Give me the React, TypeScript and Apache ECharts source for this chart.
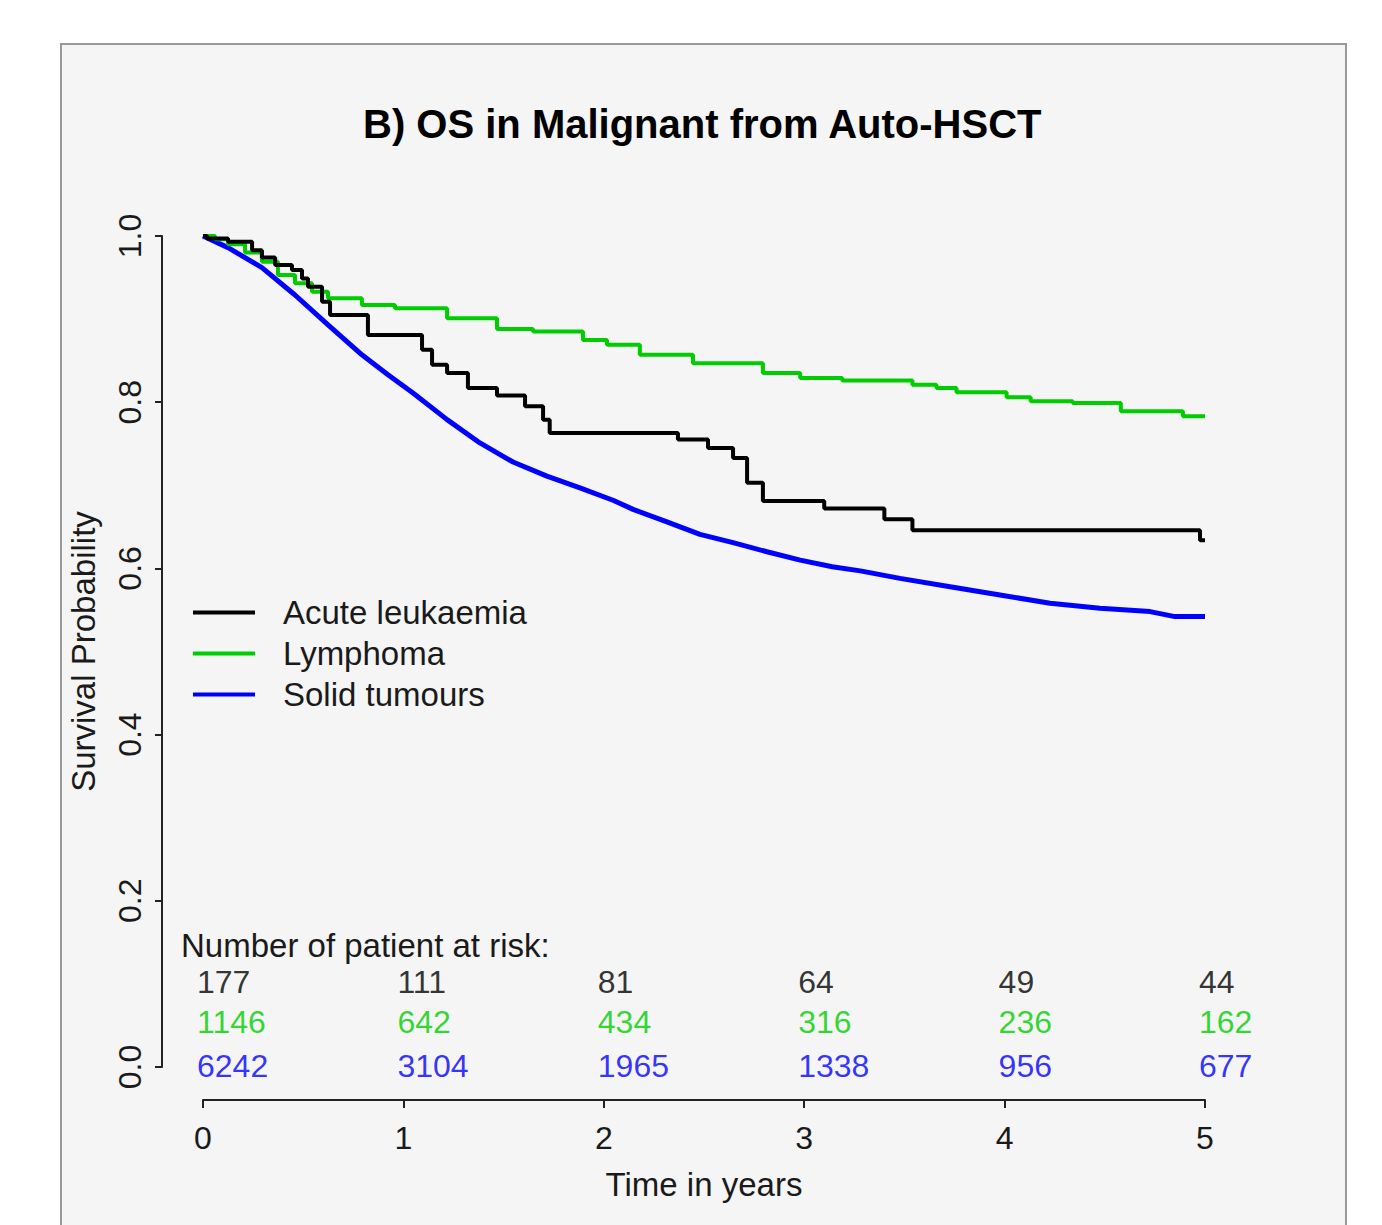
import React, { useEffect, useRef } from "react";
import * as echarts from "echarts";

const TITLE = "B) OS in Malignant from Auto-HSCT";
const SERIES_NAMES = ["Acute leukaemia", "Lymphoma", "Solid tumours"];
const SERIES_COLORS = ["#000000", "#00cd00", "#0000ff"];
const SERIES_WIDTHS = [4, 4, 5];

// Kaplan-Meier estimates: [time in years, survival probability]
const acuteLeukaemia: [number, number][] = [
  [0, 1.0], [0.02, 0.997], [0.125, 0.993], [0.245, 0.983], [0.294, 0.974],
  [0.36, 0.965], [0.444, 0.959], [0.494, 0.949], [0.524, 0.939], [0.594, 0.921],
  [0.634, 0.905], [0.823, 0.881], [1.093, 0.863], [1.143, 0.845], [1.218, 0.835],
  [1.322, 0.817], [1.467, 0.808], [1.607, 0.795], [1.697, 0.779], [1.73, 0.763],
  [2.37, 0.755], [2.52, 0.745], [2.645, 0.733], [2.715, 0.703], [2.794, 0.681],
  [3.1, 0.672], [3.4, 0.659], [3.54, 0.646], [4.975, 0.634], [5.0, 0.634],
];
const lymphoma: [number, number][] = [
  [0, 1.0], [0.06, 0.996], [0.125, 0.99], [0.21, 0.98], [0.294, 0.969],
  [0.374, 0.953], [0.459, 0.943], [0.544, 0.933], [0.624, 0.925], [0.793, 0.917],
  [0.958, 0.913], [1.218, 0.901], [1.467, 0.888], [1.647, 0.885], [1.896, 0.875],
  [2.016, 0.869], [2.18, 0.857], [2.445, 0.847], [2.794, 0.835], [2.98, 0.829],
  [3.19, 0.826], [3.54, 0.821], [3.66, 0.817], [3.76, 0.812], [4.01, 0.806],
  [4.13, 0.801], [4.34, 0.799], [4.58, 0.789], [4.89, 0.783], [5.0, 0.783],
];
const solidTumours: [number, number][] = [
  [0, 1.0], [0.125, 0.986], [0.294, 0.962], [0.459, 0.929], [0.624, 0.893],
  [0.793, 0.857], [0.923, 0.833], [1.048, 0.811], [1.218, 0.779], [1.382, 0.751],
  [1.547, 0.728], [1.716, 0.711], [1.881, 0.697], [2.046, 0.682], [2.146, 0.671],
  [2.315, 0.656], [2.48, 0.641], [2.645, 0.631], [2.814, 0.62], [2.98, 0.61],
  [3.14, 0.602], [3.28, 0.597], [3.478, 0.588], [3.728, 0.578], [3.977, 0.568],
  [4.227, 0.558], [4.476, 0.552], [4.726, 0.548], [4.85, 0.542], [5.0, 0.542],
];

const X_TICKS = [0, 1, 2, 3, 4, 5];
const AT_RISK_ACUTE = [177, 111, 81, 64, 49, 44];
const AT_RISK_LYMPHOMA = [1146, 642, 434, 316, 236, 162];
const AT_RISK_SOLID = [6242, 3104, 1965, 1338, 956, 677];
const AT_RISK_TITLE = "Number of patient at risk:";

// vertical placement of the at-risk rows, in axis units
const RISK_ROW_Y = [0.102, 0.054, 0.001];

const FONT = "'Liberation Sans', Arial, sans-serif";

export default function App() {
  const ref = useRef<HTMLDivElement>(null);

  useEffect(() => {
    if (!ref.current) return;
    const chart = echarts.init(ref.current, null, { renderer: "svg" });
    const curves = [acuteLeukaemia, lymphoma, solidTumours];
    const risks = [AT_RISK_ACUTE, AT_RISK_LYMPHOMA, AT_RISK_SOLID];

    const lineSeries = curves.map((d, i) => ({
      name: SERIES_NAMES[i],
      type: "line",
      data: d,
      step: i === 2 ? false : "end",
      symbol: "none",
      silent: true,
      z: 5 - i,
      lineStyle: { color: SERIES_COLORS[i], width: SERIES_WIDTHS[i] },
      itemStyle: { color: SERIES_COLORS[i] },
    }));

    const riskSeries = risks.map((vals, i) => ({
      name: "risk" + i,
      type: "scatter",
      symbol: "circle",
      symbolSize: 1,
      silent: true,
      itemStyle: { color: "transparent" },
      data: X_TICKS.map((t) => [t, RISK_ROW_Y[i]]),
      label: {
        show: true,
        position: "inside",
        align: "left",
        verticalAlign: "middle",
        offset: [-6, 0],
        fontFamily: FONT,
        fontSize: 32,
        color: SERIES_COLORS[i],
        formatter: (p: any) => String(vals[p.dataIndex]),
      },
    }));

    chart.setOption({
      animation: false,
      backgroundColor: "#ffffff",
      textStyle: { fontFamily: FONT },
      title: {
        text: TITLE,
        left: 363,
        top: 104,
        padding: 0,
        textStyle: { fontFamily: FONT, fontSize: 40, fontWeight: "bold", color: "#000" },
      },
      graphic: [
        {
          type: "rect",
          z: -10,
          silent: true,
          shape: { x: 61, y: 44, width: 1285, height: 1200 },
          style: { fill: "#f5f5f5", stroke: "#999999", lineWidth: 2 },
        },
        {
          type: "text",
          x: 181,
          y: 945,
          silent: true,
          style: {
            text: AT_RISK_TITLE,
            font: `33px ${FONT}`,
            fill: "#1a1a1a",
            textAlign: "left",
            textVerticalAlign: "middle",
          },
        },
      ],
      legend: {
        data: SERIES_NAMES.map((n) => ({ name: n, icon: "rect" })),
        orient: "vertical",
        left: 193,
        top: 596,
        itemWidth: 62,
        itemHeight: 4,
        itemGap: 8,
        selectedMode: false,
        padding: 0,
        textStyle: {
          fontFamily: FONT,
          fontSize: 33,
          lineHeight: 32,
          color: "#1a1a1a",
          padding: [0, 0, 0, 23],
        },
      },
      grid: { left: 203, right: 177, top: 236, bottom: 158 },
      xAxis: {
        type: "value",
        min: 0,
        max: 5,
        interval: 1,
        offset: 33,
        name: "Time in years",
        nameLocation: "middle",
        nameGap: 68,
        nameTextStyle: { fontFamily: FONT, fontSize: 33, color: "#1a1a1a" },
        axisLine: { show: true, onZero: false, lineStyle: { color: "#222", width: 2 } },
        axisTick: { show: true, length: 8, lineStyle: { color: "#222", width: 2 } },
        axisLabel: { fontFamily: FONT, fontSize: 32, color: "#1a1a1a", margin: 22 },
        splitLine: { show: false },
      },
      yAxis: {
        type: "value",
        min: 0,
        max: 1,
        interval: 0.2,
        offset: 41,
        name: "Survival Probability",
        nameLocation: "middle",
        nameGap: 62,
        nameTextStyle: { fontFamily: FONT, fontSize: 33, color: "#1a1a1a" },
        axisLine: { show: true, onZero: false, lineStyle: { color: "#222", width: 2 } },
        axisTick: { show: true, length: 7, lineStyle: { color: "#222", width: 2 } },
        axisLabel: {
          fontFamily: FONT,
          fontSize: 32,
          color: "#1a1a1a",
          rotate: 90,
          margin: 16,
          formatter: (v: number) => v.toFixed(1),
        },
        splitLine: { show: false },
      },
      series: [...lineSeries, ...riskSeries],
    });

    return () => chart.dispose();
  }, []);

  return (
    <div
      ref={ref}
      style={{ position: "fixed", left: 0, top: 0, width: 1382, height: 1225 }}
    />
  );
}
